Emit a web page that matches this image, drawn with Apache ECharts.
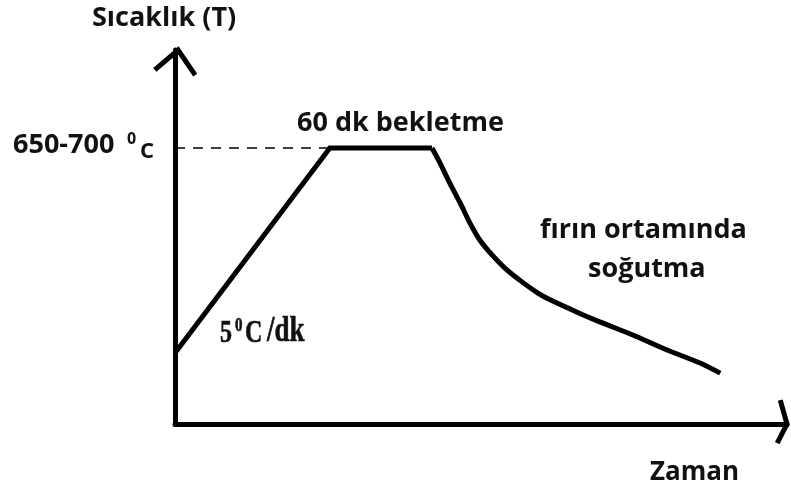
<!DOCTYPE html>
<html>
<head>
<meta charset="utf-8">
<script src="https://cdn.jsdelivr.net/npm/echarts@6/dist/echarts.min.js"></script>
<style>
  html, body { margin: 0; padding: 0; background: #fff; }
  #chart { width: 791px; height: 495px; }
</style>
</head>
<body>
<div id="chart"></div>
<script>
// Heat-treatment profile (schematic units: time 0-100, temperature 0-100)
const heatingTime = [0, 25.3, 42.0];
const heatingTemp = [19.0, 73.8, 73.8];

const coolingTime = [42.0, 43.3, 44.9, 46.6, 48.2, 49.8, 51.8, 53.9, 56.7, 59.3, 61.3, 65.7, 69.4, 74.8, 80.4, 85.8, 89.1];
const coolingTemp = [73.8, 69.8, 64.4, 59.1, 53.7, 49.2, 45.2, 41.7, 38.0, 35.0, 33.2, 29.9, 27.3, 23.8, 19.8, 16.3, 13.6];

// Guide from the temperature axis to the start of the hold
const holdGuideTime = [0, 25.3];
const holdGuideTemp = [73.8, 73.8];

// Open arrow heads at the axis ends
const yArrowTime = [-3.3, 0.5, 3.3];
const yArrowTemp = [94.7, 100, 93.3];
const xArrowTime = [98.9, 100, 98.4];
const xArrowTemp = [6.4, 0, -5.1];

const zip = (xs, ys) => xs.map((x, i) => [x, ys[i]]);

const sans = '"Open Sans", Lato, sans-serif';
const serif = '"Liberation Serif", "DejaVu Serif", serif';
const ink = '#111';

const chart = echarts.init(document.getElementById('chart'));

chart.setOption({
  animation: false,
  grid: { left: 175, right: 4, top: 50, bottom: 71 },
  xAxis: {
    type: 'value', min: 0, max: 100,
    axisLine: { show: true, onZero: false, lineStyle: { color: '#000', width: 5 } },
    axisTick: { show: false }, axisLabel: { show: false }, splitLine: { show: false }
  },
  yAxis: {
    type: 'value', min: 0, max: 100,
    axisLine: { show: true, onZero: false, lineStyle: { color: '#000', width: 5 } },
    axisTick: { show: false }, axisLabel: { show: false }, splitLine: { show: false }
  },
  series: [
    {
      type: 'line', data: zip(holdGuideTime, holdGuideTemp), symbol: 'none',
      lineStyle: { color: '#000', width: 1.5, type: [10, 8] }, z: 1
    },
    {
      type: 'line', data: zip(heatingTime, heatingTemp), symbol: 'none',
      lineStyle: { color: '#000', width: 5, join: 'miter' }
    },
    {
      type: 'line', data: zip(coolingTime, coolingTemp), symbol: 'none',
      smooth: 0.2,
      lineStyle: { color: '#000', width: 5 }
    }
  ]
});

// Arrow heads are drawn as polylines placed through the axes' own scales
function arrow(xs, ys) {
  return {
    type: 'polyline', silent: true, z: 10,
    shape: { points: xs.map((x, i) => chart.convertToPixel({ gridIndex: 0 }, [x, ys[i]])) },
    style: { stroke: '#000', lineWidth: 5, fill: null, lineJoin: 'miter' }
  };
}

function label(text, left, top, font) {
  return { type: 'text', left: left, top: top, silent: true, style: { text: text, font: font, fill: ink } };
}

// Serif slope note, drawn tall and narrow
function slopePiece(text, x, y, font) {
  return {
    type: 'text', silent: true,
    style: { text: text, x: x, y: y, font: font, fill: ink, stroke: ink, lineWidth: 0.45, verticalAlign: 'bottom' }
  };
}

const bigSans = 'bold 27px ' + sans;

chart.setOption({
  graphic: [
    arrow(yArrowTime, yArrowTemp),
    arrow(xArrowTime, xArrowTemp),
    label('Sıcaklık (T)', 92, 5, bigSans),
    label('650-700', 13, 132, bigSans),
    label('0', 127, 131, 'bold 16px ' + sans),
    label('C', 140, 141, 'bold 22px ' + sans),
    label('60 dk bekletme', 297, 110, bigSans),
    label('fırın ortamında', 540, 217, bigSans),
    label('soğutma', 588, 256, bigSans),
    label('Zaman', 650, 460, 'bold 26px ' + sans),
    {
      type: 'group', x: 220, y: 343, scaleY: 1.3, silent: true,
      children: [
        slopePiece('5', 0, 5, 'bold 24px ' + serif),
        slopePiece('0', 15, -5.5, 'bold 15px ' + serif),
        slopePiece('C', 25, 5, 'bold 24px ' + serif),
        slopePiece('/dk', 47, 5, 'bold 27px ' + serif)
      ]
    }
  ]
});
</script>
</body>
</html>
